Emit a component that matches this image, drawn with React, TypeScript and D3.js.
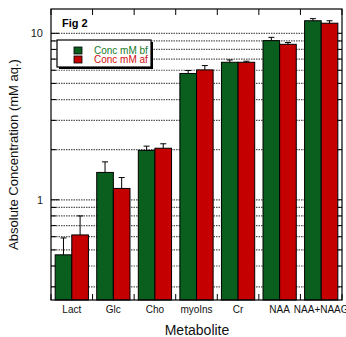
import React from "react";
import * as d3 from "d3";

const categories = ["Lact", "Glc", "Cho", "myoIns", "Cr", "NAA", "NAA+NAAG"];
const seriesNames = ["Conc mM bf", "Conc mM af"];
const valuesBf = [0.467, 1.46, 1.98, 5.74, 6.7, 9.04, 11.9];
const errBf = [0.59, 1.69, 2.1, 5.98, 6.92, 9.46, 12.25];
const valuesAf = [0.615, 1.17, 2.04, 6.03, 6.7, 8.59, 11.5];
const errAf = [0.8, 1.36, 2.17, 6.4, 6.8, 8.8, 11.9];
const yMajorTicks = [1, 10];
const gridValues = [0.3, 0.4, 0.5, 0.6, 0.7, 0.8, 0.9, 1, 2, 3, 4, 5, 6, 7, 8, 9, 10];

const colors = ["#0a5e1e", "#c40000"];
const FONT = "'Liberation Sans', Arial, sans-serif";

export default function App() {
  const W = 346, H = 337;
  const m = { left: 51, right: 342, top: 9, bottom: 300 };
  const x = d3.scaleBand<string>().domain(categories).range([m.left, m.right]).paddingInner(0).paddingOuter(0);
  const y = d3.scaleLog().domain([0.25, 14]).range([m.bottom, m.top]);
  const bw = x.bandwidth();
  const barW = bw * 0.4;
  const series = [
    { vals: valuesBf, errs: errBf, color: colors[0] },
    { vals: valuesAf, errs: errAf, color: colors[1] },
  ];
  const boundaries = categories.map((c) => x(c)!).concat([m.right]);

  return (
    <svg width={W} height={H} style={{ position: "absolute", left: 0, top: 0 }} fontFamily={FONT}>
      <rect x={0} y={0} width={W} height={H} fill="#fff" />
      {/* gridlines */}
      {gridValues.map((v) => (
        <line key={"g" + v} x1={m.left} x2={m.right} y1={y(v)} y2={y(v)} stroke="#555" strokeWidth={1.2} strokeDasharray="1.5,1" />
      ))}
      {/* right minor ticks */}
      {gridValues.map((v) => (
        <line key={"r" + v} x1={m.right - (yMajorTicks.includes(v) ? 8 : 5)} x2={m.right} y1={y(v)} y2={y(v)} stroke="#000" />
      ))}
      {gridValues.map((v) => (
        <line key={"l" + v} x1={m.left} x2={m.left + (yMajorTicks.includes(v) ? 8 : 5)} y1={y(v)} y2={y(v)} stroke="#000" />
      ))}
      {/* bars */}
      {categories.map((c, i) => {
        const cx = x(c)! + bw / 2;
        return series.map((s, j) => {
          const bx = cx - barW + j * barW;
          const top = y(s.vals[i]);
          const et = y(s.errs[i]);
          return (
            <g key={c + j}>
              <rect x={bx} y={top} width={barW} height={m.bottom - top} fill={s.color} stroke="#000" strokeWidth={1} />
              <line x1={bx + barW / 2} x2={bx + barW / 2} y1={top} y2={et} stroke="#000" />
              <line x1={bx + barW / 2 - 3} x2={bx + barW / 2 + 3} y1={et} y2={et} stroke="#000" />
            </g>
          );
        });
      })}
      {/* frame */}
      <rect x={m.left} y={m.top} width={m.right - m.left} height={m.bottom - m.top} fill="none" stroke="#000" strokeWidth={1.2} />
      {/* category ticks top and bottom */}
      {boundaries.map((b, i) => (
        <g key={"t" + i}>
          <line x1={b} x2={b} y1={m.top} y2={m.top + 6} stroke="#000" />
          <line x1={b} x2={b} y1={m.bottom} y2={m.bottom - 6} stroke="#000" />
        </g>
      ))}
      {/* y tick labels */}
      {yMajorTicks.map((v) => (
        <text key={"yl" + v} x={43} y={y(v)} dy="0.35em" textAnchor="end" fontSize={11} fill="#222">{v}</text>
      ))}
      {/* x labels */}
      {categories.map((c) => (
        <text key={"xl" + c} x={x(c)! + bw / 2} y={313} textAnchor="middle" fontSize={10} fill="#111">{c}</text>
      ))}
      <text x={197} y={335} textAnchor="middle" fontSize={14} fill="#111">Metabolite</text>
      <text transform={`translate(18,${(m.top + m.bottom) / 2}) rotate(-90)`} textAnchor="middle" fontSize={13} fill="#111">Absolute Concentration (mM aq.)</text>
      <text x={62} y={27} fontSize={11} fontWeight="bold" fill="#000">Fig 2</text>
      {/* legend */}
      <rect x={59} y={42} width={94} height={27} fill="#000" />
      <rect x={57} y={40} width={94} height={27} fill="#fff" stroke="#000" strokeWidth={1.2} />
      {seriesNames.map((n, i) => (
        <g key={n}>
          <rect x={74} y={47 + i * 9} width={8} height={7} fill={colors[i]} stroke="#000" strokeWidth={0.8} />
          <text x={94} y={54 + i * 9} fontSize={10} fill={i === 0 ? "#1a7a2a" : "#d01010"}>{n}</text>
        </g>
      ))}
    </svg>
  );
}
